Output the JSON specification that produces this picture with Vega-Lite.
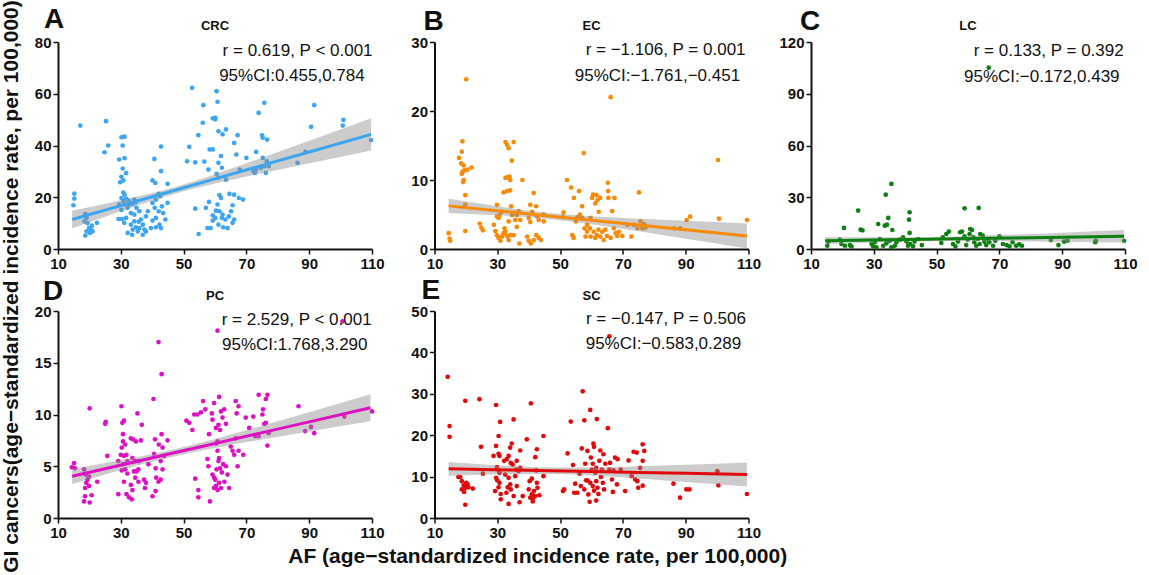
{
  "$schema": "https://vega.github.io/schema/vega-lite/v6.json",
  "padding": {"left": 1, "top": 0, "right": 5, "bottom": 0},
  "background": "white",
  "title": {"text": "GI cancers(age−standardized incidence rate, per 100,000)", "orient": "left", "anchor": "middle", "font": "Liberation Sans", "fontSize": 21, "fontWeight": "bold", "color": "#111111", "offset": 12},
  "datasets": {
    "CRC": [{"x":14.9,"y":16.9},{"x":15.2,"y":21.4},{"x":15.2,"y":19.5},{"x":17.1,"y":47.7},{"x":18.7,"y":13.5},{"x":19.1,"y":12},{"x":18.4,"y":10.7},{"x":19.4,"y":10},{"x":19.9,"y":8.1},{"x":19.1,"y":6.8},{"x":18.7,"y":5.2},{"x":20.5,"y":7.5},{"x":20.8,"y":9},{"x":20.2,"y":6.2},{"x":21,"y":6.8},{"x":22.4,"y":10.1},{"x":25.3,"y":49.4},{"x":24.8,"y":37.4},{"x":26,"y":40},
      {"x":29.5,"y":34.6},{"x":30.2,"y":43.2},{"x":31.2,"y":43.4},{"x":30.6,"y":40},{"x":31.2,"y":35.1},{"x":30.6,"y":31.1},{"x":30.2,"y":27.9},{"x":29.8,"y":25.8},{"x":31.7,"y":29.3},{"x":30.8,"y":26.5},{"x":30.8,"y":21.8},{"x":31.2,"y":21},{"x":30.2,"y":19.7},{"x":31.7,"y":19.5},{"x":30.8,"y":18.5},{"x":32.5,"y":18.7},{"x":29.5,"y":17.2},{"x":31.4,"y":17.2},{"x":32.7,"y":17.2},{"x":30.2,"y":15.1},{"x":32.1,"y":15.9},{"x":33.8,"y":17.4},{"x":34.3,"y":19.1},{"x":34.8,"y":18.2},{"x":35,"y":15.9},{"x":33.2,"y":13.9},{"x":34.3,"y":13.3},{"x":35.9,"y":14.6},{"x":31.7,"y":12},{"x":29.3,"y":11.6},{"x":30.4,"y":11.6},{"x":31.1,"y":10.1},{"x":33.2,"y":9.4},{"x":34.3,"y":10.7},{"x":34.8,"y":8.4},{"x":33.8,"y":7.5},{"x":35.4,"y":6.8},{"x":32.2,"y":6.2},{"x":33.6,"y":5.5},{"x":35.9,"y":8.1},{"x":37,"y":9.4},{"x":37.5,"y":7.5},{"x":36.4,"y":11.4},{"x":38,"y":6.8},{"x":37,"y":5.5},{"x":35.7,"y":10.5},
      {"x":40.7,"y":34.8},{"x":42.8,"y":39.6},{"x":42.8,"y":30.1},{"x":40.1,"y":26.5},{"x":41,"y":25.5},{"x":44.9,"y":25.2},{"x":42.1,"y":21.3},{"x":42.5,"y":20.4},{"x":41.2,"y":19.1},{"x":40.1,"y":17.8},{"x":44.9,"y":17.8},{"x":43.1,"y":16.5},{"x":40.8,"y":15.9},{"x":42.1,"y":14.6},{"x":43.5,"y":13.9},{"x":41.2,"y":12},{"x":40.1,"y":11},{"x":42.3,"y":9.4},{"x":44.2,"y":11.4},{"x":39.6,"y":8.1},{"x":41.2,"y":8.4},{"x":42.8,"y":8.1},{"x":38,"y":12.6},{"x":38.6,"y":14.6},
      {"x":52.7,"y":62.3},{"x":51.8,"y":39.5},{"x":51.1,"y":33.9},{"x":53.7,"y":33.5},{"x":54.7,"y":44},{"x":56.3,"y":55.6},{"x":56.1,"y":48.8},{"x":56.6,"y":33.8},{"x":57.9,"y":30.7},{"x":58.3,"y":38.5},{"x":59.3,"y":50.5},{"x":60.1,"y":50.7},{"x":60.5,"y":61},{"x":60.8,"y":56.9},{"x":61.1,"y":45.5},{"x":60.1,"y":50.1},{"x":59.3,"y":38.5},{"x":61.9,"y":35.9},{"x":62.4,"y":44.3},{"x":63.5,"y":46.2},{"x":62.2,"y":31.4},{"x":61.1,"y":33.3},{"x":60.5,"y":29},{"x":61.1,"y":27.5},{"x":63.5,"y":26.8},{"x":53.7,"y":15.6},{"x":54.8,"y":5.8},{"x":57.1,"y":15.9},{"x":58.1,"y":18.2},{"x":57.6,"y":8.1},{"x":58.6,"y":8.1},{"x":59.3,"y":13},{"x":60.3,"y":14.8},{"x":60.8,"y":17.2},{"x":59.3,"y":11},{"x":60.1,"y":12},{"x":61.4,"y":20.8},{"x":61.9,"y":19.7},{"x":62.4,"y":13.3},{"x":63.3,"y":11.4},{"x":61.4,"y":14.6},{"x":62.6,"y":8.4},{"x":64,"y":8.1},{"x":64.4,"y":12.6},{"x":65.1,"y":14.6},{"x":65.6,"y":16.9},{"x":64.6,"y":21.3},{"x":66.1,"y":21},{"x":61.1,"y":9.4},{"x":62.2,"y":12},{"x":65.6,"y":10.1},{"x":66.1,"y":11.4},
      {"x":66.1,"y":41},{"x":67.2,"y":44},{"x":66.8,"y":36.5},{"x":73.1,"y":37.5},{"x":67.9,"y":30.7},{"x":68.9,"y":19.1},{"x":67.6,"y":19.7},{"x":70,"y":35.2},{"x":72.7,"y":29.4},{"x":73.1,"y":30.7},{"x":73.9,"y":52.6},{"x":75,"y":43.9},{"x":75.7,"y":56.5},{"x":75.2,"y":43},{"x":75.2,"y":35.2},{"x":75.7,"y":32},{"x":76.5,"y":33.9},{"x":76.2,"y":29.4},{"x":77.1,"y":32},{"x":76.6,"y":42.3},{"x":74.6,"y":31.4},{"x":72.2,"y":30.1},
      {"x":86.3,"y":33.3},{"x":88.8,"y":37.5},{"x":90.6,"y":47.2},{"x":91.6,"y":55.6},{"x":100.7,"y":47.7},{"x":100.9,"y":49.9},{"x":109.7,"y":42.1}],
    "CRC_fit": [{"x":14.5,"fit":11.4,"lo":8.0,"hi":14.8},{"x":25,"fit":15.03,"lo":12.5,"hi":17.5},{"x":35,"fit":18.48,"lo":16.7,"hi":20.2},{"x":47,"fit":22.63,"lo":21.3,"hi":23.9},{"x":60,"fit":27.12,"lo":25.3,"hi":28.9},{"x":75,"fit":32.31,"lo":29.3,"hi":35.3},{"x":90,"fit":37.49,"lo":33.1,"hi":41.8},{"x":109.7,"fit":44.3,"lo":38.1,"hi":50.5}],
    "EC": [{"x":14.5,"y":2.3},{"x":14.8,"y":1.5},{"x":15,"y":1.2},{"x":20.1,"y":24.6},{"x":18.9,"y":15.6},{"x":18.7,"y":14.1},{"x":17.8,"y":13.2},{"x":18.5,"y":12.4},{"x":19.3,"y":12.1},{"x":18.9,"y":11.2},{"x":18.7,"y":10.9},{"x":19.5,"y":11.4},{"x":20.5,"y":11.5},{"x":21.8,"y":11.8},{"x":19.3,"y":10},{"x":19.1,"y":9.7},{"x":19.8,"y":7.8},{"x":19.8,"y":6.4},{"x":19.8,"y":2.6},
      {"x":24.4,"y":3.7},{"x":24.9,"y":3.1},{"x":25.4,"y":2.7},{"x":29.9,"y":6.4},{"x":28.9,"y":3.5},{"x":29.4,"y":2.6},{"x":29.9,"y":2},{"x":30.4,"y":1.6},{"x":31,"y":1.2},{"x":31.5,"y":1.8},{"x":32,"y":2.3},{"x":30.4,"y":4.5},{"x":30.7,"y":4.9},{"x":29.9,"y":4.7},{"x":31.5,"y":5.4},{"x":32.6,"y":2.5},{"x":33.1,"y":1.9},{"x":33.6,"y":1.3},{"x":34.1,"y":2},{"x":32.3,"y":3},{"x":33.6,"y":4},
      {"x":32.6,"y":15.5},{"x":33.1,"y":15.1},{"x":33.6,"y":14.6},{"x":35.2,"y":15.5},{"x":32.6,"y":10.3},{"x":33.3,"y":10.4},{"x":33.9,"y":10.5},{"x":34.1,"y":10},{"x":34.6,"y":12.8},{"x":32,"y":8.2},{"x":33.1,"y":8.4},{"x":34.1,"y":8.5},{"x":38,"y":10},{"x":34.4,"y":6.2},{"x":34.7,"y":4.9},{"x":35.7,"y":4.2},{"x":36.2,"y":4.9},{"x":36.8,"y":5.5},{"x":35.2,"y":2},{"x":36.2,"y":3.2},{"x":37.3,"y":4.2},{"x":37,"y":0.8},
      {"x":40,"y":4.5},{"x":40.5,"y":3.9},{"x":41.1,"y":5.4},{"x":41.6,"y":8.1},{"x":42.4,"y":6.2},{"x":42.7,"y":4.7},{"x":43.2,"y":4.2},{"x":40.5,"y":6.4},{"x":39.5,"y":1.8},{"x":40,"y":1.2},{"x":40.7,"y":0.8},{"x":41.6,"y":1.3},{"x":42.4,"y":2},{"x":43.2,"y":1.6},{"x":43.9,"y":1.3},{"x":44.8,"y":4},{"x":44.8,"y":5},
      {"x":50.9,"y":4.6},{"x":51.1,"y":5.3},{"x":52.2,"y":10},{"x":53.5,"y":8.9},{"x":56,"y":8.4},{"x":54.4,"y":7.4},{"x":53.9,"y":2},{"x":54.3,"y":1.6},{"x":55,"y":4},{"x":55.5,"y":4.6},{"x":56.3,"y":5},{"x":57,"y":4.5},{"x":57.5,"y":13.9},{"x":57,"y":6.2},{"x":57.8,"y":3},{"x":58.1,"y":1.8},{"x":58.6,"y":3.5},{"x":59.5,"y":3},{"x":59.7,"y":4.5},{"x":60.2,"y":7.4},{"x":60.5,"y":7.9},{"x":61.2,"y":6.6},{"x":61.6,"y":7.8},{"x":61.9,"y":7.1},{"x":62.3,"y":5.4},{"x":62.8,"y":7.4},{"x":60.7,"y":2.5},{"x":61.2,"y":1.6},{"x":61.7,"y":2},{"x":62.2,"y":2.8},{"x":62.8,"y":1.8},{"x":63.4,"y":2.5},{"x":63.9,"y":1.3},{"x":64.4,"y":2.8},{"x":64.9,"y":1.9},{"x":65.4,"y":7.4},{"x":65.3,"y":8.4},{"x":65.2,"y":9.6},{"x":66.1,"y":22},{"x":66.6,"y":5.5},{"x":67.3,"y":7.4},{"x":67.1,"y":3},{"x":67.7,"y":2.3},{"x":68.2,"y":1.9},{"x":68.7,"y":2.5},{"x":69.8,"y":1.9},{"x":66.1,"y":1.6},{"x":59.7,"y":1.8},{"x":58.6,"y":2.5},
      {"x":71.4,"y":3.5},{"x":72.7,"y":1.8},{"x":73.5,"y":3.5},{"x":74.6,"y":3},{"x":75.1,"y":8.2},{"x":75.6,"y":4},{"x":76.2,"y":3},{"x":76.7,"y":3.6},{"x":77.2,"y":3.1},
      {"x":86.3,"y":3},{"x":88.2,"y":3},{"x":90.3,"y":4.2},{"x":91.4,"y":4.7},{"x":100.3,"y":12.9},{"x":100.6,"y":4.4},{"x":109.5,"y":4.2}],
    "EC_fit": [{"x":14.5,"fit":6.25,"lo":5.23,"hi":7.27},{"x":25,"fit":5.77,"lo":5.0,"hi":6.54},{"x":35,"fit":5.31,"lo":4.75,"hi":5.87},{"x":47,"fit":4.76,"lo":4.31,"hi":5.21},{"x":60,"fit":4.16,"lo":3.58,"hi":4.74},{"x":75,"fit":3.47,"lo":2.56,"hi":4.38},{"x":90,"fit":2.78,"lo":1.48,"hi":4.08},{"x":109.5,"fit":1.89,"lo":0.07,"hi":3.71}],
    "LC": [{"x":66.6,"y":105.1},{"x":35.6,"y":37.7},{"x":33.8,"y":31.5},{"x":34.6,"y":18},{"x":33.5,"y":13.5},{"x":34.2,"y":14.1},{"x":35.9,"y":11},{"x":31.4,"y":14.5},{"x":25,"y":22.3},{"x":25.8,"y":11.2},{"x":26.4,"y":10.8},{"x":20.5,"y":12.2},{"x":41.4,"y":21.3},{"x":41.2,"y":17},{"x":41.4,"y":9.3},{"x":58.9,"y":23.6},{"x":63.4,"y":23.8},
      {"x":15.5,"y":4.3},{"x":15.2,"y":1.9},{"x":19.2,"y":5.4},{"x":19.7,"y":2.9},{"x":20.8,"y":1.9},{"x":22.4,"y":2.3},{"x":22.9,"y":1.5},{"x":29.3,"y":2.9},{"x":29.8,"y":1.5},{"x":30.3,"y":3.9},{"x":30.8,"y":1},{"x":31.9,"y":5.8},{"x":33,"y":1.9},{"x":34,"y":3.3},{"x":35.1,"y":4.8},{"x":35.6,"y":1},{"x":36.7,"y":1.9},{"x":37.2,"y":3.9},{"x":38.3,"y":5.4},{"x":39.3,"y":6.8},{"x":40.4,"y":4.3},{"x":40.9,"y":1.9},{"x":41.6,"y":2.9},{"x":42.5,"y":1.5},{"x":43,"y":4.3},{"x":44.1,"y":5.8},{"x":45.3,"y":2.3},
      {"x":51.5,"y":3.5},{"x":52,"y":6.8},{"x":53.1,"y":8.7},{"x":53.9,"y":10.1},{"x":55.2,"y":2.9},{"x":56,"y":1.5},{"x":56.8,"y":4.3},{"x":57.5,"y":9.7},{"x":58.1,"y":10.1},{"x":58.9,"y":7.4},{"x":59.4,"y":2.3},{"x":59.9,"y":5.4},{"x":60.5,"y":8.7},{"x":60.7,"y":11.6},{"x":61.3,"y":11},{"x":61.7,"y":6.8},{"x":62,"y":3.9},{"x":62.6,"y":1.9},{"x":63.1,"y":5.8},{"x":63.7,"y":2.9},{"x":63.9,"y":8.7},{"x":64.7,"y":7.7},{"x":65.2,"y":4.3},{"x":65.8,"y":2.3},{"x":66.3,"y":5.8},{"x":66.8,"y":3.9},{"x":68,"y":1.9},{"x":68.7,"y":4.8},{"x":70,"y":7.4},{"x":71.1,"y":2.9},{"x":72.3,"y":2.3},{"x":73.2,"y":1.5},{"x":74.2,"y":3.9},{"x":75.3,"y":1.9},{"x":76.3,"y":2.7},{"x":77.2,"y":1.9},
      {"x":86.4,"y":5.2},{"x":88.8,"y":2.3},{"x":90.6,"y":4.3},{"x":91.7,"y":4.8},{"x":100.7,"y":4.8},{"x":100.5,"y":3.9},{"x":109.7,"y":4.8}],
    "LC_fit": [{"x":14.5,"fit":4.84,"lo":2.69,"hi":6.99},{"x":25,"fit":5.12,"lo":3.42,"hi":6.82},{"x":35,"fit":5.38,"lo":4.01,"hi":6.75},{"x":47,"fit":5.7,"lo":4.5,"hi":6.9},{"x":60,"fit":6.04,"lo":4.64,"hi":7.44},{"x":75,"fit":6.44,"lo":4.49,"hi":8.39},{"x":90,"fit":6.83,"lo":4.19,"hi":9.47},{"x":109.7,"fit":7.35,"lo":3.71,"hi":10.99}],
    "PC": [{"x":100.6,"y":19},{"x":60.8,"y":18.1},{"x":42,"y":17},{"x":43,"y":13.9},{"x":40.4,"y":11.5},
      {"x":14.4,"y":4.9},{"x":15.1,"y":5.3},{"x":15.4,"y":4.8},{"x":18.3,"y":4.7},{"x":18.8,"y":4.2},{"x":18.6,"y":2.9},{"x":19,"y":3.4},{"x":19.4,"y":3.7},{"x":19.9,"y":4},{"x":18.3,"y":1.6},{"x":20.1,"y":1.5},{"x":20.7,"y":2.2},{"x":18.6,"y":2.1},{"x":19.9,"y":3.1},{"x":20.1,"y":10.6},{"x":22.5,"y":3.5},{"x":25,"y":9.1},{"x":25.2,"y":9.3},{"x":25.7,"y":6},
      {"x":30.2,"y":10.8},{"x":30.5,"y":9.2},{"x":31,"y":9.4},{"x":30.7,"y":8.1},{"x":30.7,"y":7.4},{"x":31.4,"y":7.1},{"x":30.3,"y":6.8},{"x":30,"y":6.1},{"x":31,"y":6},{"x":31.8,"y":6.1},{"x":32.1,"y":5.5},{"x":30.7,"y":5.2},{"x":30.3,"y":4.6},{"x":31.4,"y":4.7},{"x":32.1,"y":4.3},{"x":29.2,"y":5.5},{"x":31,"y":3.5},{"x":29.2,"y":2.3},{"x":31.8,"y":2.3},{"x":32.6,"y":2},{"x":33.5,"y":1.8},{"x":33.2,"y":7.7},{"x":33.9,"y":7.6},{"x":34.8,"y":7.4},{"x":35.3,"y":10.1},{"x":34.6,"y":5.5},{"x":33.7,"y":5.8},{"x":34.2,"y":4.5},{"x":35,"y":4.5},{"x":35.6,"y":4.7},{"x":33.2,"y":3.2},{"x":34.6,"y":3.9},{"x":35.6,"y":3.5},{"x":33.7,"y":2.7},{"x":36.4,"y":7.5},{"x":36.7,"y":9},{"x":37.4,"y":3.7},{"x":37.7,"y":2.9},{"x":38,"y":3.4},{"x":35.8,"y":5.5},
      {"x":40.1,"y":2.1},{"x":40.6,"y":6.2},{"x":41.1,"y":4.8},{"x":40.9,"y":7.6},{"x":41.3,"y":3.9},{"x":42,"y":3.5},{"x":42.7,"y":3.7},{"x":43.3,"y":4.7},{"x":42.7,"y":5.5},{"x":43,"y":8.1},{"x":42.1,"y":7.1},{"x":43.3,"y":6.8},{"x":43.8,"y":6},{"x":44.9,"y":7.5},{"x":41.1,"y":2.6},{"x":38.8,"y":5.2},
      {"x":50.9,"y":9.4},{"x":51.8,"y":9.2},{"x":52.8,"y":8.5},{"x":53.4,"y":10},{"x":54.4,"y":10},{"x":55.5,"y":10.2},{"x":56.2,"y":11.3},{"x":56.9,"y":10.5},{"x":53.7,"y":3.8},{"x":54.7,"y":2.7},{"x":54.7,"y":2},{"x":57.6,"y":5.7},{"x":57.9,"y":5},{"x":58.4,"y":1.6},{"x":58.1,"y":8.1},{"x":59.2,"y":9.5},{"x":59.7,"y":11.1},{"x":59,"y":10.1},{"x":60.3,"y":8.7},{"x":60.8,"y":7.4},{"x":60.3,"y":7.2},{"x":61.1,"y":9},{"x":61.3,"y":11.7},{"x":61.9,"y":10.3},{"x":62.4,"y":9.7},{"x":61.6,"y":8.5},{"x":63.5,"y":9.1},{"x":62.9,"y":10.5},{"x":59.7,"y":3.9},{"x":59.2,"y":4.2},{"x":60.3,"y":3.1},{"x":59.7,"y":2.9},{"x":60.8,"y":2.7},{"x":61.3,"y":3.4},{"x":60.5,"y":4.7},{"x":61.1,"y":5.5},{"x":61.6,"y":4.8},{"x":62.2,"y":4.4},{"x":62.6,"y":5.2},{"x":63.5,"y":5},{"x":64,"y":4.2},{"x":64.5,"y":2.9},{"x":63,"y":3.5},{"x":61.9,"y":2.9},{"x":61.3,"y":5.8},{"x":60.1,"y":3.7},{"x":60.8,"y":6.5},
      {"x":65,"y":6.9},{"x":65.6,"y":6.5},{"x":66.1,"y":6.1},{"x":66.6,"y":11.3},{"x":66.9,"y":10.1},{"x":67.5,"y":10.8},{"x":66.6,"y":7.7},{"x":67.5,"y":6.5},{"x":69,"y":6.1},{"x":69.8,"y":9.7},{"x":67.2,"y":5},{"x":70.9,"y":8.7},{"x":72.2,"y":9.8},{"x":72.8,"y":7.9},{"x":73.9,"y":11.9},{"x":73.9,"y":7.9},{"x":75.1,"y":10},{"x":75.3,"y":10.5},{"x":75.7,"y":9.1},{"x":76.2,"y":11.5},{"x":76.7,"y":11.9},{"x":76.7,"y":7},{"x":76.2,"y":9.2},{"x":77.1,"y":8.2},
      {"x":86.6,"y":10.8},{"x":88.7,"y":8.4},{"x":90.6,"y":8.8},{"x":91.6,"y":8.2},{"x":101.2,"y":9.8},{"x":110,"y":10.3}],
    "PC_fit": [{"x":14.5,"fit":4.03,"lo":3.29,"hi":4.77},{"x":25,"fit":4.76,"lo":4.2,"hi":5.32},{"x":35,"fit":5.46,"lo":5.04,"hi":5.88},{"x":47,"fit":6.3,"lo":5.95,"hi":6.65},{"x":60,"fit":7.2,"lo":6.77,"hi":7.63},{"x":75,"fit":8.25,"lo":7.59,"hi":8.91},{"x":90,"fit":9.29,"lo":8.36,"hi":10.22},{"x":109.5,"fit":10.65,"lo":9.35,"hi":11.95}],
    "SC": [{"x":65.7,"y":43.9},{"x":14.2,"y":34.1},{"x":14.8,"y":22.2},{"x":14.8,"y":19.6},{"x":17.6,"y":9.9},{"x":18.2,"y":9.9},{"x":18.7,"y":8.9},{"x":19.3,"y":7.9},{"x":18.7,"y":6.9},{"x":19.4,"y":6.3},{"x":20.1,"y":8.5},{"x":20.5,"y":8.1},{"x":19.8,"y":7.3},{"x":19.8,"y":28.3},{"x":19.8,"y":3.2},{"x":20.8,"y":7.4},{"x":22.2,"y":7.1},{"x":24.3,"y":28.7},{"x":24.8,"y":17.2},{"x":25.4,"y":10.7},
      {"x":29.6,"y":27.3},{"x":28.8,"y":15},{"x":29.6,"y":17.4},{"x":30.4,"y":19.8},{"x":30.9,"y":23.2},{"x":30.4,"y":15.5},{"x":30.7,"y":15},{"x":29.9,"y":12.3},{"x":30.4,"y":11.5},{"x":30.7,"y":10.9},{"x":29.6,"y":9.7},{"x":30,"y":9.1},{"x":30.7,"y":8.5},{"x":29.3,"y":6.5},{"x":30.4,"y":7.4},{"x":31.1,"y":5.8},{"x":31.1,"y":4.5},{"x":32.2,"y":13.8},{"x":33,"y":14.2},{"x":32.5,"y":10.5},{"x":33.6,"y":15},{"x":34.1,"y":17},{"x":34.6,"y":18},{"x":34.3,"y":13.3},{"x":34.9,"y":12.9},{"x":35.2,"y":23.8},{"x":33.6,"y":9.7},{"x":34.1,"y":8.1},{"x":33.3,"y":7.4},{"x":32.9,"y":6.1},{"x":33.6,"y":3.4},{"x":34.3,"y":6.9},{"x":35.2,"y":5.3},{"x":35.7,"y":10.1},{"x":36,"y":11.7},{"x":36.2,"y":13.8},{"x":36.8,"y":11.3},{"x":37.3,"y":16.3},{"x":37.3,"y":12.1},{"x":36.2,"y":7.7},{"x":37.1,"y":3.8},{"x":38.1,"y":5.3},
      {"x":40.7,"y":27.7},{"x":39.4,"y":19},{"x":40.3,"y":8.9},{"x":41,"y":9.5},{"x":40,"y":6.9},{"x":40.5,"y":4.9},{"x":41.3,"y":4},{"x":41,"y":5.7},{"x":41.7,"y":6.5},{"x":42.1,"y":14.7},{"x":42.6,"y":16.6},{"x":42.6,"y":8.5},{"x":42.4,"y":11.5},{"x":42.8,"y":7.3},{"x":43.4,"y":5.5},{"x":42.1,"y":5.3},{"x":41.3,"y":4.7},{"x":44.7,"y":19.8},{"x":44.7,"y":10.1},
      {"x":50.9,"y":6.5},{"x":51.3,"y":6.9},{"x":52.4,"y":15.6},{"x":53.4,"y":23.3},{"x":54.1,"y":12.8},{"x":54.8,"y":8.3},{"x":54.5,"y":6.1},{"x":55.5,"y":6.1},{"x":56.2,"y":10.7},{"x":56.9,"y":16.8},{"x":57.2,"y":30.6},{"x":57.7,"y":23.6},{"x":58,"y":13.1},{"x":58.3,"y":9.1},{"x":56.6,"y":7.7},{"x":57.7,"y":6.9},{"x":58.7,"y":16.2},{"x":59,"y":5.7},{"x":59.6,"y":26.1},{"x":59.4,"y":3.9},{"x":59.8,"y":14.6},{"x":60.1,"y":11.7},{"x":60.4,"y":13.1},{"x":60.6,"y":18},{"x":60.8,"y":17.2},{"x":61.2,"y":10.9},{"x":61.5,"y":8.9},{"x":61.7,"y":23.9},{"x":61.5,"y":12.1},{"x":61.9,"y":7.3},{"x":62.2,"y":5.8},{"x":62.8,"y":16.3},{"x":62.5,"y":13.8},{"x":63,"y":9.9},{"x":63.3,"y":11.7},{"x":63.6,"y":8.5},{"x":63.8,"y":15.4},{"x":64,"y":6.9},{"x":64.4,"y":13.1},{"x":60.4,"y":7.7},{"x":60.8,"y":6.6},{"x":61.5,"y":4.2},{"x":59.6,"y":8.5},{"x":58.7,"y":9.1},
      {"x":65.2,"y":21.7},{"x":65.9,"y":13.3},{"x":65.7,"y":11.7},{"x":66.5,"y":9.3},{"x":67,"y":11.5},{"x":67.5,"y":14.6},{"x":66.8,"y":6.3},{"x":68.3,"y":14.2},{"x":68.1,"y":8.1},{"x":69.3,"y":11.7},{"x":70.7,"y":6.5},{"x":71.8,"y":13.9},{"x":72.8,"y":10.1},{"x":73.4,"y":16},{"x":74.4,"y":15.8},{"x":73.9,"y":9.3},{"x":74.6,"y":8.9},{"x":74.9,"y":7.3},{"x":75.5,"y":12.1},{"x":76.3,"y":13.8},{"x":76.3,"y":17.8},{"x":76.8,"y":16.2},{"x":76.3,"y":7.8},
      {"x":86.1,"y":8.3},{"x":88.2,"y":4.9},{"x":90.2,"y":6.9},{"x":91.2,"y":6.9},{"x":100.1,"y":11.3},{"x":100.4,"y":7.9},{"x":109.5,"y":5.8}],
    "SC_fit": [{"x":14.5,"fit":11.89,"lo":10.23,"hi":13.55},{"x":25,"fit":11.74,"lo":10.47,"hi":13.01},{"x":35,"fit":11.59,"lo":10.63,"hi":12.55},{"x":47,"fit":11.42,"lo":10.62,"hi":12.22},{"x":60,"fit":11.23,"lo":10.24,"hi":12.22},{"x":75,"fit":11.02,"lo":9.53,"hi":12.51},{"x":90,"fit":10.8,"lo":8.72,"hi":12.88},{"x":109.5,"fit":10.52,"lo":7.61,"hi":13.43}]
  },
  "vconcat": [
    {
      "title": {"text": "AF (age−standardized incidence rate, per 100,000)", "orient": "bottom", "anchor": "middle", "font": "Liberation Sans", "fontSize": 21, "fontWeight": "bold", "color": "#111111", "offset": 6, "dx": -48},
      "columns": 3,
      "spacing": {"row": 62, "column": 62.5},
      "bounds": "flush",
      "concat": [
        {
          "width": 314, "height": 207,
          "layer": [
            {"data": {"name": "CRC"}, "mark": {"type": "circle", "size": 22, "opacity": 1, "color": "#3DA5F0"},
             "encoding": {"x": {"field": "x", "type": "quantitative", "title": null, "scale": {"domain": [10, 110], "nice": false}, "axis": {"values": [10, 30, 50, 70, 90, 110]}},
                          "y": {"field": "y", "type": "quantitative", "title": null, "scale": {"domain": [0, 80], "nice": false}, "axis": {"values": [0, 20, 40, 60, 80]}}}},
            {"data": {"name": "CRC_fit"}, "mark": {"type": "area", "color": "#8f8f8f", "opacity": 0.45, "interpolate": "monotone"},
             "encoding": {"x": {"field": "x", "type": "quantitative", "title": null}, "y": {"field": "lo", "type": "quantitative", "title": null}, "y2": {"field": "hi"}}},
            {"data": {"name": "CRC_fit"}, "mark": {"type": "line", "color": "#3DA5F0", "strokeWidth": 3},
             "encoding": {"x": {"field": "x", "type": "quantitative", "title": null}, "y": {"field": "fit", "type": "quantitative", "title": null}}},
            {"data": {"values": [{}]}, "mark": {"type": "text", "text": "A", "fontSize": 28, "fontWeight": "bold", "align": "left", "baseline": "alphabetic", "dx": -14, "dy": -14},
             "encoding": {"x": {"datum": 10, "type": "quantitative"}, "y": {"datum": 80, "type": "quantitative"}}},
            {"data": {"values": [{}]}, "mark": {"type": "text", "text": "CRC", "fontSize": 13, "fontWeight": "bold", "align": "center", "baseline": "alphabetic", "dy": -12},
             "encoding": {"x": {"datum": 60, "type": "quantitative"}, "y": {"datum": 80, "type": "quantitative"}}},
            {"data": {"values": [{}]}, "mark": {"type": "text", "text": "r = 0.619, P < 0.001", "fontSize": 17, "align": "center", "baseline": "alphabetic"},
             "encoding": {"x": {"datum": 86.3, "type": "quantitative"}, "y": {"datum": 74.6, "type": "quantitative"}}},
            {"data": {"values": [{}]}, "mark": {"type": "text", "text": "95%CI:0.455,0.784", "fontSize": 17, "align": "center", "baseline": "alphabetic"},
             "encoding": {"x": {"datum": 84.5, "type": "quantitative"}, "y": {"datum": 64.9, "type": "quantitative"}}}
          ]
        },
        {
          "width": 314, "height": 207,
          "layer": [
            {"data": {"name": "EC"}, "mark": {"type": "circle", "size": 22, "opacity": 1, "color": "#F78A08"},
             "encoding": {"x": {"field": "x", "type": "quantitative", "title": null, "scale": {"domain": [10, 110], "nice": false}, "axis": {"values": [10, 30, 50, 70, 90, 110]}},
                          "y": {"field": "y", "type": "quantitative", "title": null, "scale": {"domain": [0, 30], "nice": false}, "axis": {"values": [0, 10, 20, 30]}}}},
            {"data": {"name": "EC_fit"}, "mark": {"type": "area", "color": "#8f8f8f", "opacity": 0.45, "interpolate": "monotone"},
             "encoding": {"x": {"field": "x", "type": "quantitative", "title": null}, "y": {"field": "lo", "type": "quantitative", "title": null}, "y2": {"field": "hi"}}},
            {"data": {"name": "EC_fit"}, "mark": {"type": "line", "color": "#F78A08", "strokeWidth": 3},
             "encoding": {"x": {"field": "x", "type": "quantitative", "title": null}, "y": {"field": "fit", "type": "quantitative", "title": null}}},
            {"data": {"values": [{}]}, "mark": {"type": "text", "text": "B", "fontSize": 28, "fontWeight": "bold", "align": "left", "baseline": "alphabetic", "dx": -11, "dy": -12},
             "encoding": {"x": {"datum": 10, "type": "quantitative"}, "y": {"datum": 30, "type": "quantitative"}}},
            {"data": {"values": [{}]}, "mark": {"type": "text", "text": "EC", "fontSize": 13, "fontWeight": "bold", "align": "center", "baseline": "alphabetic", "dy": -12},
             "encoding": {"x": {"datum": 60, "type": "quantitative"}, "y": {"datum": 30, "type": "quantitative"}}},
            {"data": {"values": [{}]}, "mark": {"type": "text", "text": "r = −1.106, P = 0.001", "fontSize": 17, "align": "center", "baseline": "alphabetic"},
             "encoding": {"x": {"datum": 83.6, "type": "quantitative"}, "y": {"datum": 28.1, "type": "quantitative"}}},
            {"data": {"values": [{}]}, "mark": {"type": "text", "text": "95%CI:−1.761,−0.451", "fontSize": 17, "align": "center", "baseline": "alphabetic"},
             "encoding": {"x": {"datum": 81.0, "type": "quantitative"}, "y": {"datum": 24.3, "type": "quantitative"}}}
          ]
        },
        {
          "width": 314, "height": 207,
          "layer": [
            {"data": {"name": "LC"}, "mark": {"type": "circle", "size": 22, "opacity": 1, "color": "#0E7F12"},
             "encoding": {"x": {"field": "x", "type": "quantitative", "title": null, "scale": {"domain": [10, 110], "nice": false}, "axis": {"values": [10, 30, 50, 70, 90, 110]}},
                          "y": {"field": "y", "type": "quantitative", "title": null, "scale": {"domain": [0, 120], "nice": false}, "axis": {"values": [0, 30, 60, 90, 120]}}}},
            {"data": {"name": "LC_fit"}, "mark": {"type": "area", "color": "#8f8f8f", "opacity": 0.45, "interpolate": "monotone"},
             "encoding": {"x": {"field": "x", "type": "quantitative", "title": null}, "y": {"field": "lo", "type": "quantitative", "title": null}, "y2": {"field": "hi"}}},
            {"data": {"name": "LC_fit"}, "mark": {"type": "line", "color": "#0E7F12", "strokeWidth": 3},
             "encoding": {"x": {"field": "x", "type": "quantitative", "title": null}, "y": {"field": "fit", "type": "quantitative", "title": null}}},
            {"data": {"values": [{}]}, "mark": {"type": "text", "text": "C", "fontSize": 28, "fontWeight": "bold", "align": "left", "baseline": "alphabetic", "dx": -11, "dy": -12},
             "encoding": {"x": {"datum": 10, "type": "quantitative"}, "y": {"datum": 120, "type": "quantitative"}}},
            {"data": {"values": [{}]}, "mark": {"type": "text", "text": "LC", "fontSize": 13, "fontWeight": "bold", "align": "center", "baseline": "alphabetic", "dy": -12},
             "encoding": {"x": {"datum": 60, "type": "quantitative"}, "y": {"datum": 120, "type": "quantitative"}}},
            {"data": {"values": [{}]}, "mark": {"type": "text", "text": "r = 0.133, P = 0.392", "fontSize": 17, "align": "center", "baseline": "alphabetic"},
             "encoding": {"x": {"datum": 85.7, "type": "quantitative"}, "y": {"datum": 111.9, "type": "quantitative"}}},
            {"data": {"values": [{}]}, "mark": {"type": "text", "text": "95%CI:−0.172,0.439", "fontSize": 17, "align": "center", "baseline": "alphabetic"},
             "encoding": {"x": {"datum": 83.5, "type": "quantitative"}, "y": {"datum": 96.8, "type": "quantitative"}}}
          ]
        },
        {
          "width": 314, "height": 207,
          "layer": [
            {"data": {"name": "PC"}, "mark": {"type": "circle", "size": 22, "opacity": 1, "color": "#DD10C2"},
             "encoding": {"x": {"field": "x", "type": "quantitative", "title": null, "scale": {"domain": [10, 110], "nice": false}, "axis": {"values": [10, 30, 50, 70, 90, 110]}},
                          "y": {"field": "y", "type": "quantitative", "title": null, "scale": {"domain": [0, 20], "nice": false}, "axis": {"values": [0, 5, 10, 15, 20]}}}},
            {"data": {"name": "PC_fit"}, "mark": {"type": "area", "color": "#8f8f8f", "opacity": 0.45, "interpolate": "monotone"},
             "encoding": {"x": {"field": "x", "type": "quantitative", "title": null}, "y": {"field": "lo", "type": "quantitative", "title": null}, "y2": {"field": "hi"}}},
            {"data": {"name": "PC_fit"}, "mark": {"type": "line", "color": "#DD10C2", "strokeWidth": 3},
             "encoding": {"x": {"field": "x", "type": "quantitative", "title": null}, "y": {"field": "fit", "type": "quantitative", "title": null}}},
            {"data": {"values": [{}]}, "mark": {"type": "text", "text": "D", "fontSize": 28, "fontWeight": "bold", "align": "left", "baseline": "alphabetic", "dx": -15, "dy": -11},
             "encoding": {"x": {"datum": 10, "type": "quantitative"}, "y": {"datum": 20, "type": "quantitative"}}},
            {"data": {"values": [{}]}, "mark": {"type": "text", "text": "PC", "fontSize": 13, "fontWeight": "bold", "align": "center", "baseline": "alphabetic", "dy": -11},
             "encoding": {"x": {"datum": 60, "type": "quantitative"}, "y": {"datum": 20, "type": "quantitative"}}},
            {"data": {"values": [{}]}, "mark": {"type": "text", "text": "r = 2.529, P < 0.001", "fontSize": 17, "align": "center", "baseline": "alphabetic"},
             "encoding": {"x": {"datum": 86.0, "type": "quantitative"}, "y": {"datum": 18.65, "type": "quantitative"}}},
            {"data": {"values": [{}]}, "mark": {"type": "text", "text": "95%CI:1.768,3.290", "fontSize": 17, "align": "center", "baseline": "alphabetic"},
             "encoding": {"x": {"datum": 85.4, "type": "quantitative"}, "y": {"datum": 16.23, "type": "quantitative"}}}
          ]
        },
        {
          "width": 314, "height": 207,
          "layer": [
            {"data": {"name": "SC"}, "mark": {"type": "circle", "size": 22, "opacity": 1, "color": "#E00A0C"},
             "encoding": {"x": {"field": "x", "type": "quantitative", "title": null, "scale": {"domain": [10, 110], "nice": false}, "axis": {"values": [10, 30, 50, 70, 90, 110]}},
                          "y": {"field": "y", "type": "quantitative", "title": null, "scale": {"domain": [0, 50], "nice": false}, "axis": {"values": [0, 10, 20, 30, 40, 50]}}}},
            {"data": {"name": "SC_fit"}, "mark": {"type": "area", "color": "#8f8f8f", "opacity": 0.45, "interpolate": "monotone"},
             "encoding": {"x": {"field": "x", "type": "quantitative", "title": null}, "y": {"field": "lo", "type": "quantitative", "title": null}, "y2": {"field": "hi"}}},
            {"data": {"name": "SC_fit"}, "mark": {"type": "line", "color": "#E00A0C", "strokeWidth": 3},
             "encoding": {"x": {"field": "x", "type": "quantitative", "title": null}, "y": {"field": "fit", "type": "quantitative", "title": null}}},
            {"data": {"values": [{}]}, "mark": {"type": "text", "text": "E", "fontSize": 28, "fontWeight": "bold", "align": "left", "baseline": "alphabetic", "dx": -13, "dy": -12},
             "encoding": {"x": {"datum": 10, "type": "quantitative"}, "y": {"datum": 50, "type": "quantitative"}}},
            {"data": {"values": [{}]}, "mark": {"type": "text", "text": "SC", "fontSize": 13, "fontWeight": "bold", "align": "center", "baseline": "alphabetic", "dy": -11},
             "encoding": {"x": {"datum": 60, "type": "quantitative"}, "y": {"datum": 50, "type": "quantitative"}}},
            {"data": {"values": [{}]}, "mark": {"type": "text", "text": "r = −0.147, P = 0.506", "fontSize": 17, "align": "center", "baseline": "alphabetic"},
             "encoding": {"x": {"datum": 83.7, "type": "quantitative"}, "y": {"datum": 46.8, "type": "quantitative"}}},
            {"data": {"values": [{}]}, "mark": {"type": "text", "text": "95%CI:−0.583,0.289", "fontSize": 17, "align": "center", "baseline": "alphabetic"},
             "encoding": {"x": {"datum": 82.9, "type": "quantitative"}, "y": {"datum": 40.8, "type": "quantitative"}}}
          ]
        }
      ]
    }
  ],
  "config": {
    "view": {"stroke": null},
    "font": "Liberation Sans",
    "text": {"font": "Liberation Sans", "color": "#111111"},
    "axis": {"grid": false, "domainColor": "#111111", "domainWidth": 2, "tickColor": "#111111", "tickWidth": 1.5, "tickSize": 5, "labelFont": "Liberation Sans", "labelFontSize": 15, "labelFontWeight": "bold", "labelColor": "#111111", "labelPadding": 2, "labelFlush": false, "labelOverlap": false, "labelBound": false}
  }
}
